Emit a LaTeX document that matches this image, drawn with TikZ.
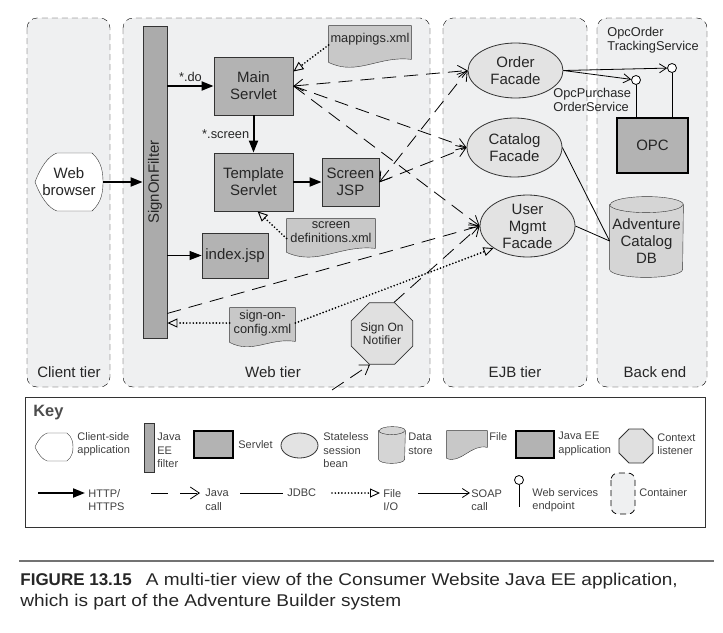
\documentclass[tikz,border=0pt]{standalone}
\usepackage{fontspec}
\usepackage{graphicx}
\setmainfont{Liberation Sans}
\newfontfamily\capwide{Liberation Sans}[FakeStretch=1.12]
\usetikzlibrary{arrows.meta,shapes.geometric,backgrounds,calc}

\definecolor{tierbg}{HTML}{EFF0F1}
\definecolor{servletgray}{HTML}{B3B3B3}
\definecolor{filtergray}{HTML}{ABABAB}
\definecolor{beangray}{HTML}{E3E3E3}
\definecolor{filegray}{HTML}{C8C8C8}
\definecolor{drumgray}{HTML}{D5D5D5}
\definecolor{notegray}{HTML}{E0E0E0}
\definecolor{ink}{HTML}{262626}

\newcommand{\mainfs}{\fontsize{15}{17}\selectfont}
\newcommand{\smallfs}{\fontsize{12.8}{14.2}\selectfont}
\newcommand{\notefs}{\fontsize{12}{12.8}\selectfont}
\newcommand{\keyfs}{\fontsize{11}{13.5}\selectfont}
\newcommand{\capfs}{\fontsize{17}{21}\selectfont}

% outlines drawn behind a node
\newcommand{\clientshape}[3]{%
  \begin{scope}[on background layer]
    \draw[clientbody,shift={(#1.center)},xscale=#2,yscale=#3]
      (-1,0) .. controls (-0.82,-0.55) and (-0.6,-0.9) .. (-0.353,-1) -- (0.676,-1)
      .. controls (0.97,-0.7) and (1,-0.3) .. (1,0) .. controls (1,0.3) and (0.97,0.7) .. (0.676,1)
      -- (-0.353,1) .. controls (-0.6,0.9) and (-0.82,0.55) .. (-1,0) -- cycle;
  \end{scope}}
\newcommand{\xmlfile}[5]{%
  \begin{scope}[on background layer]
    \draw[filebody] (#1.north west) -- (#1.north east) -- ([yshift=-#2pt]#1.south east)
      .. controls +(-0.4*#4,-4) and +(0.35*#4,#5) .. ([yshift=-#3pt]#1.south west) -- cycle;
  \end{scope}}
\newcommand{\drum}[3]{%
  \begin{scope}[on background layer]
    \draw[drumbody] (#1.north west) -- ([yshift=#3pt]#1.south west)
      arc[start angle=180,end angle=360,x radius=#2pt,y radius=#3pt]
      -- (#1.north east) arc[start angle=0,end angle=180,x radius=#2pt,y radius=#3pt] -- cycle;
    \draw[drumbody,fill=none] (#1.north west) arc[start angle=180,end angle=360,x radius=#2pt,y radius=#3pt];
  \end{scope}}

\begin{document}
\begin{tikzpicture}[x=1pt,y=-1pt,line width=0.8pt,text=ink,
    tier/.style={draw,dash pattern=on 6pt off 4pt,rounded corners=10pt,fill=tierbg},
    servlet/.style={draw=black!80,fill=servletgray,line width=0.9pt,align=center,font=\mainfs,inner sep=0pt},
    bean/.style={ellipse,draw=black!80,fill=beangray,align=center,font=\mainfs,inner sep=0pt},
    xml/.style={align=center,font=\smallfs,inner sep=0pt},
    clientbody/.style={draw=black!80,fill=white},
    filebody/.style={draw=black!80,fill=filegray},
    drumbody/.style={draw=black!80,fill=drumgray},
    octa/.style={regular polygon,regular polygon sides=8,draw=black!80,fill=notegray,inner sep=0pt,align=center},
    endpoint/.style={circle,draw,fill=white,minimum size=9pt,inner sep=0pt},
    tiername/.style={font=\mainfs},
    keytext/.style={font=\keyfs,align=left,anchor=west,inner sep=0pt,text=black!75},
    http/.style={-{Triangle[length=12pt,width=9pt]},line width=2pt},
    javacall/.style={>={Straight Barb[length=9pt,width=12pt,line width=0.8pt]},->,dash pattern=on 14pt off 8pt},
    fileio/.style={-{Triangle[open,length=10pt,width=9pt,line width=0.9pt]},dash pattern=on 0pt off 3.3pt,line cap=round,line width=1.9pt},
    soap/.style={-{Straight Barb[length=7pt,width=9pt]}},
    jdbc/.style={}
  ]
  \useasboundingbox (0,0) rectangle (723,632);

  \begin{scope}[on background layer]
    \draw[tier] (27,18) rectangle (110,387);
    \draw[tier] (123,18) rectangle (430,387);
    \draw[tier] (443,18) rectangle (587,387);
    \draw[tier] (597,18) rectangle (707,387);
  \end{scope}
  \node[tiername] (t1) at (69,372) {Client tier};
  \node[tiername] (t2) at (273,372) {Web tier};
  \node[tiername] (t3) at (515,372) {EJB tier};
  \node[tiername] (t4) at (655,372) {Back end};

  % client and web tier
  \node[align=center,font=\mainfs,minimum width=68pt,minimum height=58pt,inner sep=0pt] (browser) at (69,182) {Web\\browser};
  \clientshape{browser}{34}{29}
  \node[draw=black!80,fill=filtergray,minimum width=24pt,minimum height=312pt,inner sep=0pt] (filter) at (155,182) {\rotatebox{90}{\mainfs SignOnFilter}};
  \node[servlet,minimum width=79pt,minimum height=58pt] (main) at (253.5,86) {Main\\Servlet};
  \node[servlet,minimum width=79pt,minimum height=58pt] (tmpl) at (253.5,182) {Template\\Servlet};
  \node[servlet,minimum width=57pt,minimum height=48pt] (jsp) at (350.5,182) {Screen\\JSP};
  \node[servlet,minimum width=66pt,minimum height=45pt] (index) at (235,255.5) {index.jsp};
  \node[xml,minimum width=82pt,minimum height=26pt] (map) at (370,39) {mappings.xml};
  \xmlfile{map}{7}{10}{82}{14}
  \node[xml,minimum width=88pt,minimum height=27pt] (sdef) at (331,232.5) {screen\\definitions.xml};
  \xmlfile{sdef}{2}{6}{88}{14}
  \node[xml,minimum width=65pt,minimum height=30pt] (config) at (262.5,323) {sign-on-\\config.xml};
  \xmlfile{config}{3}{4}{65}{12}
  \node[octa,minimum size=62.8pt,font=\notefs] (notifier) at (382,333.5) {Sign On\\Notifier};
  \coordinate (ext) at (332,390);

  % EJB tier and back end
  \node[bean,minimum width=95pt,minimum height=55pt] (order) at (515.5,70.5) {Order\\Facade};
  \node[bean,minimum width=95pt,minimum height=59pt] (catalog) at (514.5,147.5) {Catalog\\Facade};
  \node[bean,minimum width=95pt,minimum height=62pt,label={[align=center,font=\mainfs,inner sep=0pt]center:User\\Mgmt\\Facade}] (user) at (527.5,226) {};
  \node[draw=black,line width=1.5pt,fill=servletgray,minimum width=71pt,minimum height=55pt,font=\mainfs] (opc) at (652.5,145.5) {OPC};
  \node[align=center,font=\mainfs,minimum width=73pt,minimum height=72pt,inner sep=0pt] (db) at (646.5,241) {Adventure\\Catalog\\DB};
  \drum{db}{36.5}{8}
  \node[endpoint] (ep1) at (672,68) {};
  \node[endpoint] (ep2) at (636,80) {};
  \node[xml,anchor=west,align=left] (ep1-t) at (607,40.5) {OpcOrder\\TrackingService};
  \node[xml,anchor=west,align=left] (ep2-t) at (553,100) {OpcPurchase\\OrderService};

  \draw[http] (browser.east) -- (browser.east -| filter.west);
  \draw[http] (filter.east |- main.west) -- node[above,font=\smallfs] (do) {*.do} (main.west);
  \draw[http] (main.south) -- node[left,font=\smallfs] (scr) {*.screen} (tmpl.north);
  \draw[http] (tmpl.east) -- (jsp.west);
  \draw[http,line width=1pt] (filter.east |- index.west) -- (index.west);

  \draw[fileio] ([yshift=-6pt]map.west) -- (main.20);
  \draw[fileio] ([yshift=-6pt]sdef.west) -- (tmpl.-82);
  \draw[fileio] (config.west) -- (config.west -| filter.east);
  \draw[fileio] (config.east) -- (user.213);

  \path[javacall]
    (main.east) edge[<->] (order.west)
    (main.east) edge (catalog.west)
    (main.east) edge (user.west)
    (jsp.east) edge[<->] (order.west)
    (jsp.east) edge (catalog.west)
    ([yshift=25pt]filter.south east) edge (user.west)
    ([xshift=12pt]notifier.north) edge (user.west)
    (ext) edge ([xshift=-12pt]notifier.south);

  \draw[soap] (order.east) -- (ep1);
  \draw[soap] (order.east) -- (ep2);
  \draw (ep1) -- (ep1 |- opc.north);
  \draw (ep2) -- (ep2 |- opc.north);
  \draw[jdbc] (catalog.east) -- (db.west);
  \draw[jdbc] (user.east) -- (db.west);

  % key
  \draw[draw=black!80] (25,397) rectangle (705,527);
  \node[font=\bfseries\fontsize{16.4}{18}\selectfont,text=black!70,anchor=west,inner sep=0pt] (key) at (33,413) {Key};
  \node[minimum width=38pt,minimum height=28pt,inner sep=0pt] (k1) at (54,447) {};
  \clientshape{k1}{19}{14}
  \node[keytext] (k1-t) at (77,444) {Client-side\\application};
  \node[draw=black!80,fill=filtergray,minimum width=10pt,minimum height=49pt,inner sep=0pt] (k2) at (149,447.5) {};
  \node[keytext] (k2-t) at (157,450.5) {Java\\EE\\filter};
  \node[draw=black,line width=1.5pt,fill=servletgray,minimum width=39pt,minimum height=27pt] (k3) at (213.5,444.5) {};
  \node[keytext] (k3-t) at (238,445) {Servlet};
  \node[bean,minimum width=37pt,minimum height=25pt] (k4) at (299.5,445.5) {};
  \node[keytext] (k4-t) at (323,450.5) {Stateless\\session\\bean};
  \node[minimum width=26pt,minimum height=32pt,inner sep=0pt] (k5) at (392,447) {};
  \drum{k5}{13}{4}
  \node[keytext] (k5-t) at (408,444) {Data\\store};
  \node[minimum width=40pt,minimum height=16pt,inner sep=0pt] (k6) at (467,439) {};
  \xmlfile{k6}{0}{11}{40}{6}
  \node[keytext] (k6-t) at (489,437) {File};
  \node[draw=black,line width=1.5pt,fill=servletgray,minimum width=38pt,minimum height=27pt] (k7) at (535,444.5) {};
  \node[keytext] (k7-t) at (558,444) {Java EE\\application};
  \node[octa,minimum size=36.8pt] (k8) at (636,446) {};
  \node[keytext] (k8-t) at (657,444) {Context\\listener};

  \draw[http] (38,493) -- (85,493);
  \node[keytext] (k9-t) at (88,500) {HTTP/\\HTTPS};
  \draw[javacall,dash pattern=on 17pt off 12pt] (151,493) -- (200,493);
  \node[keytext] (k10-t) at (205,500) {Java\\call};
  \draw[jdbc] (240,493) -- (283,493);
  \node[keytext] (k11-t) at (287,493) {JDBC};
  \draw[fileio] (332,493) -- (380,493);
  \node[keytext] (k12-t) at (383,500) {File\\I/O};
  \draw[soap] (418,493) -- (470,493);
  \node[keytext] (k13-t) at (471,500) {SOAP\\call};
  \node[endpoint] (k14) at (519,480) {};
  \draw (k14) -- (519,507);
  \node[keytext] (k14-t) at (532,500) {Web services\\endpoint};
  \draw[tier,rounded corners=7pt] (611,473) rectangle (635,514);
  \node[keytext] (k15-t) at (639,493) {Container};

  % caption
  \draw[draw=black!55,line width=1.5pt] (19,561) -- (714,561);
  \node[font=\capfs,align=left,anchor=west,inner sep=0pt] (cap) at (20,591.5) {\textbf{FIGURE 13.15}\hspace{14pt}{\capwide A multi-tier view of the Consumer Website Java EE application,}\\{\capwide which is part of the Adventure Builder system}};
\end{tikzpicture}
\end{document}
